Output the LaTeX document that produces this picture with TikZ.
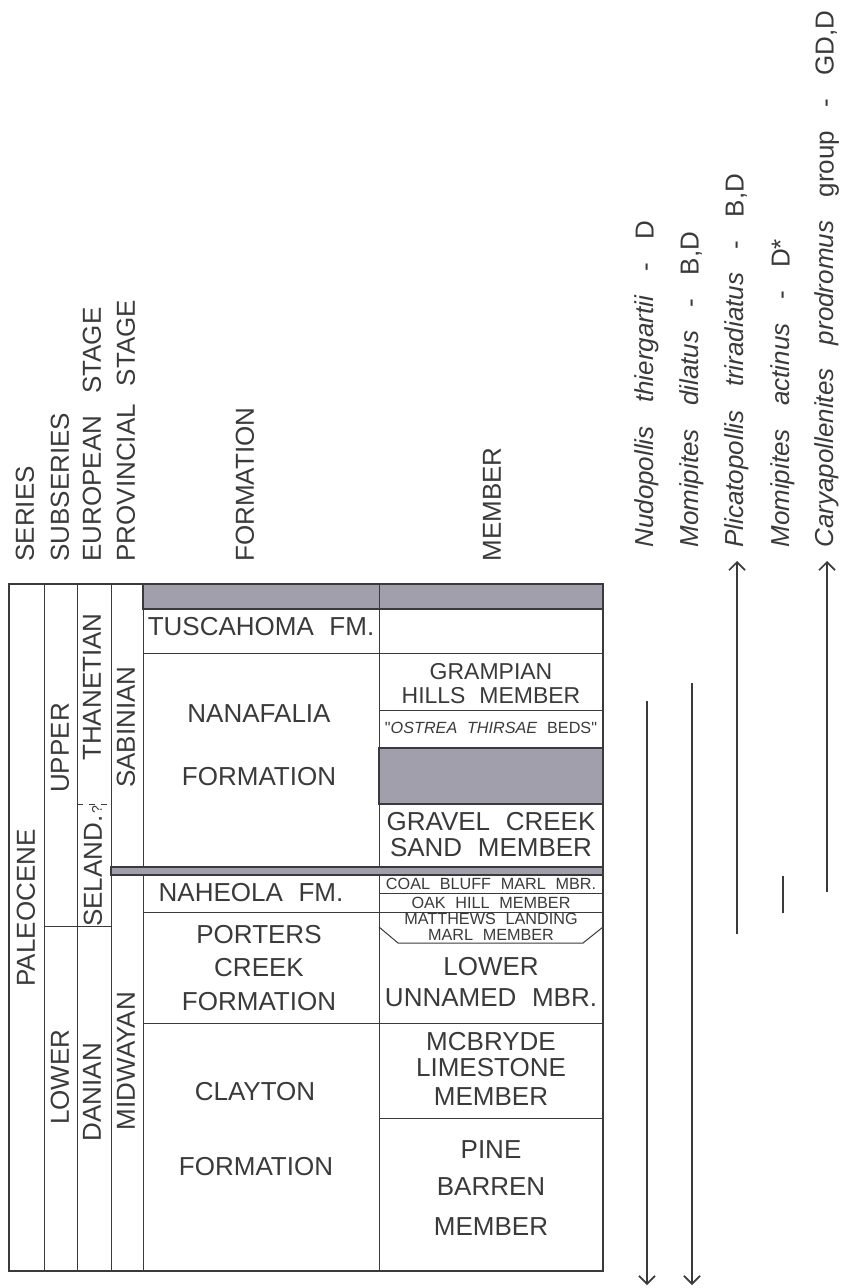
\documentclass[tikz,border=0pt]{standalone}
\usepackage{fontspec}
\setmainfont{Liberation Sans}
\usetikzlibrary{arrows.meta}
\definecolor{ink}{RGB}{58,58,58}
\definecolor{shale}{RGB}{161,159,172}
\newcommand{\wsp}{\hspace{0.6em}}
\newcommand{\tsp}{\hspace{0.9em}}
\tikzset{
  txt/.style={font=\fontsize{13}{15}\selectfont, text=ink, inner sep=0pt},
  midtxt/.style={font=\fontsize{11.5}{13}\selectfont, text=ink, inner sep=0pt},
  finetxt/.style={font=\fontsize{8.1}{9}\selectfont, text=ink, inner sep=0pt},
  hdr/.style={txt, rotate=90, anchor=west},
  vtxt/.style={txt, rotate=90},
  tline/.style={draw=ink, line width=0.5pt},
  band/.style={fill=shale, draw=ink, line width=0.6pt},
  taxon/.style={draw=ink, line width=0.85pt},
  barb/.style={-{Straight Barb[length=4pt,width=8pt]}},
}
\begin{document}
\begin{tikzpicture}[x=0.5pt,y=-0.5pt]
  \useasboundingbox (0,0) rectangle (844,1288);
  \draw[band] (143,584) rectangle (603,609);
  \draw[band] (379,748) rectangle (603,804);
  \draw[tline] (143,653)--(603,653) (379,710)--(603,710) (379,893)--(603,893)
    (143,912)--(603,912) (143,1023)--(603,1023) (379,1118)--(603,1118) (44,926)--(111,926);
  \draw[tline] (379,927)--(398,943)--(583,943)--(603,927);
  \draw[tline,dashed] (77,804)--(111,804);
  \draw[tline] (44,584)--(44,1271) (77,584)--(77,1271) (111,584)--(111,1271)
    (143,584)--(143,1271) (379,584)--(379,1271);
  \draw[band] (111,867) rectangle (603,875);
  \draw[draw=ink, line width=0.7pt] (9,584) rectangle (603,1271);

  \node[hdr] (series) at (25,562) {SERIES};
  \node[hdr] (subseries) at (60,562) {SUBSERIES};
  \node[hdr] (eurostage) at (92,562) {EUROPEAN\hspace{11pt}STAGE};
  \node[hdr] (provstage) at (126,562) {PROVINCIAL\hspace{9pt}STAGE};
  \node[hdr] (fmhdr) at (245,562) {FORMATION};
  \node[hdr] (mbrhdr) at (492,562) {MEMBER};

  \node[vtxt] (paleocene) at (26,908) {PALEOCENE};
  \node[vtxt] (upper) at (60,748) {UPPER};
  \node[vtxt] (lower) at (60,1077) {LOWER};
  \node[vtxt] (thanetian) at (92,687) {THANETIAN};
  \node[vtxt] (selandian) at (93,866) {SELAND.{\fontsize{7}{7}\selectfont\,?}};
  \node[vtxt] (danian) at (92,1092) {DANIAN};
  \node[vtxt] (sabinian) at (126,727) {SABINIAN};
  \node[vtxt] (midwayan) at (126,1061) {MIDWAYAN};

  \node[txt] (tuscahoma) at (261,627) {TUSCAHOMA\wsp FM.};
  \node[txt] (nanafalia) at (259,714) {NANAFALIA};
  \node[txt] (nanafaliafm) at (259,777) {FORMATION};
  \node[txt] (naheola) at (251,893) {NAHEOLA\wsp FM.};
  \node[txt] (porters) at (259,935) {PORTERS};
  \node[txt] (porterscreek) at (259,968) {CREEK};
  \node[txt] (portersfm) at (259,1002) {FORMATION};
  \node[txt] (clayton) at (255,1092) {CLAYTON};
  \node[txt] (claytonfm) at (256,1167) {FORMATION};

  \node[midtxt] (grampian) at (491,672) {GRAMPIAN};
  \node[midtxt] (grampianmbr) at (491,696) {HILLS\wsp MEMBER};
  \node[finetxt] (ostrea) at (491,728) {\textquotedbl\textit{OSTREA\wsp THIRSAE}\wsp BEDS\textquotedbl};
  \node[txt] (gravel) at (491,822) {GRAVEL\wsp CREEK};
  \node[txt] (gravelmbr) at (491,848) {SAND\wsp MEMBER};
  \node[finetxt] (coalbluff) at (491,884) {COAL\wsp BLUFF\wsp MARL\wsp MBR.};
  \node[finetxt] (oakhill) at (491,903) {OAK\wsp HILL\wsp MEMBER};
  \node[finetxt] (matthews) at (491,919) {MATTHEWS\wsp LANDING};
  \node[finetxt] (matthewsmbr) at (491,935) {MARL\wsp MEMBER};
  \node[txt] (unnamed) at (491,967) {LOWER};
  \node[txt] (unnamedmbr) at (491,998) {UNNAMED\wsp MBR.};
  \node[txt] (mcbryde) at (491,1042) {MCBRYDE};
  \node[txt] (mcbrydels) at (491,1068) {LIMESTONE};
  \node[txt] (mcbrydembr) at (491,1097) {MEMBER};
  \node[txt] (pine) at (491,1150) {PINE};
  \node[txt] (pinebarren) at (491,1187) {BARREN};
  \node[txt] (pinembr) at (491,1227) {MEMBER};

  \node[hdr] (nudlbl) at (647,548) {\textit{Nudopollis}\tsp\textit{thiergartii}\tsp-\tsp D};
  \node[hdr] (dillbl) at (692,548) {\textit{Momipites}\tsp\textit{dilatus}\tsp-\tsp B,D};
  \node[hdr] (plilbl) at (737,548) {\textit{Plicatopollis}\tsp\textit{triradiatus}\tsp-\tsp B,D};
  \node[hdr] (actlbl) at (783,548) {\textit{Momipites}\tsp\textit{actinus}\tsp-\tsp D*};
  \node[hdr] (carlbl) at (827,548) {\textit{Caryapollenites}\tsp\textit{prodromus}\tsp group\tsp-\tsp GD,D};

  \coordinate (nud-a) at (647,701); \coordinate (nud-b) at (647,1285);
  \coordinate (dil-a) at (692,683); \coordinate (dil-b) at (692,1285);
  \coordinate (pli-a) at (737,934); \coordinate (pli-b) at (737,561);
  \coordinate (act-a) at (783,876); \coordinate (act-b) at (783,913);
  \coordinate (car-a) at (827,892); \coordinate (car-b) at (827,561);
  \draw[taxon,barb] (nud-a)--(nud-b);
  \draw[taxon,barb] (dil-a)--(dil-b);
  \draw[taxon,barb] (pli-a)--(pli-b);
  \draw[taxon] (act-a)--(act-b);
  \draw[taxon,barb] (car-a)--(car-b);
\end{tikzpicture}
\end{document}
